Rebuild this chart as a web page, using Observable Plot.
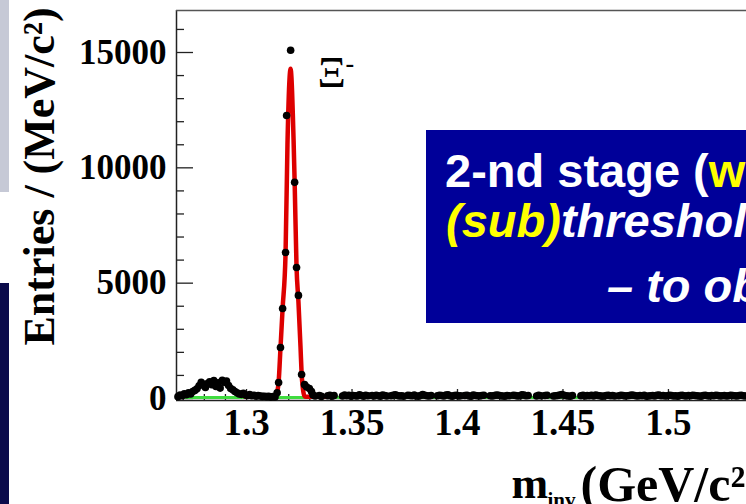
<!DOCTYPE html>
<html><head><meta charset="utf-8">
<script src="https://cdn.jsdelivr.net/npm/d3@7"></script>
<script src="https://cdn.jsdelivr.net/npm/@observablehq/plot@0.6"></script>
<style>
html,body{margin:0;padding:0;background:#fff;overflow:hidden;}
#wrap{position:relative;width:746px;height:504px;overflow:hidden;background:#fff;}
#chart{position:absolute;left:0;top:0;}
.panel{position:absolute;left:0;width:9px;}
#box{position:absolute;left:426px;top:130px;width:340px;height:193px;background:#000099;
 font-family:"Liberation Sans",Arial,sans-serif;font-weight:bold;font-size:47px;color:#fff;white-space:nowrap;}
#box div{position:absolute;line-height:1;}
.yl{color:#ffff00;}
.it{font-style:italic;}
</style></head><body>
<div id="wrap">
 <div id="chart"></div>
 <div class="panel" style="top:0;height:192px;background:#c6c9d6"></div>
 <div class="panel" style="top:283px;height:221px;background:#0b0b4b"></div>
 <div id="box">
  <div style="left:19px;top:17px">2-nd stage (<span class="yl">with</span></div>
  <div class="it" style="left:20px;top:67px"><span class="yl">(sub)</span>threshold</div>
  <div class="it" style="left:181px;top:132px">– to obtain</div>
 </div>
</div>
<script>
// ---- axes ----
const xDomain = [1.2668, 1.537];
const yDomain = [-87, 16821];
const xMajorTicks = [1.3, 1.35, 1.4, 1.45, 1.5];
const xMinorTicks = [1.27,1.28,1.29,1.31,1.32,1.33,1.34,1.36,1.37,1.38,1.39,1.41,1.42,1.43,1.44,1.46,1.47,1.48,1.49,1.51,1.52,1.53];
const yMajorTicks = [0, 5000, 10000, 15000];
const yMinorTicks = [1000,2000,3000,4000,6000,7000,8000,9000,11000,12000,13000,14000,16000];
const yLabel = "Entries / (MeV/c²)";
const particle = "Ξ";

// ---- data: invariant mass histogram (1 MeV bins) ----
const leftStart = 1.2675, binStep = 0.001;
const leftEntries = [80,150,120,200,160,250,200,300,350,420,
 550,700,620,480,650,720,600,780,520,680,
 450,790,700,760,560,430,380,300,250,200,
 180,220,150,130,170,120,140,100,130,110,
 90,100,80,90,60,80,70];
const peakMass = [1.3145,1.3152,1.3161,1.3171,1.3185,1.3190,1.3209,1.3228,1.3237,1.3246,1.3261,1.3275,1.3285,1.3298,1.3308];
const peakEntries = [250,690,2210,3900,6330,12270,15100,9370,5680,4470,1040,600,500,430,300];
const rightStart = 1.3315;
const rightEntries = [
 150,110,0,130,90,0,0,120,140,100,
 130,0,0,0,110,150,120,140,100,130,
 120,110,160,130,100,140,120,0,130,110,
 140,120,100,150,130,110,0,120,140,160,
 130,110,120,100,0,140,130,120,150,110,
 100,130,170,140,120,110,130,0,0,120,
 140,130,110,150,160,120,100,130,140,110,
 120,0,130,140,110,100,150,130,120,110,
 130,140,0,0,120,110,130,150,140,120,
 110,100,130,120,0,140,130,110,120,160,
 150,120,130,0,0,0,110,140,120,0,
 130,140,0,0,110,120,130,150,170,140,
 120,110,100,130,0,0,0,120,140,110,
 130,120,140,110,150,130,120,100,110,130,
 140,120,130,110,0,120,140,130,110,120,
 130,150,140,120,110,130,120,140,100,110,
 120,130,110,140,150,120,130,110,120,140,
 130,110,120,100,130,140,120,110,130,120,
 140,130,120,110,100,130,140,120,110,130,
 120,140,130,110,120,130,110,120,140,130,
 120,110,130,140,120,110];
// ---- fit curves ----
const fitMass = [1.2995,1.3050,1.3100,1.3130,1.3142,1.3147,1.3152,1.3161,1.3171,1.3185,1.3194,1.3204,1.3209,1.3213,1.3223,1.3228,1.3237,1.3246,1.3256,1.3261,1.3270,1.3275,1.3290,1.3340,1.3375];
const fitEntries = [80,80,80,85,150,350,700,2200,3900,6300,11000,13900,14300,13900,11200,9400,5700,4200,2200,1100,250,90,80,80,80];
const bgMass = [1.2668, 1.537];
const bgEntries = [40, 40];

const points = [];
leftEntries.forEach((v, i) => points.push({m: leftStart + i * binStep, n: v}));
peakEntries.forEach((v, i) => points.push({m: peakMass[i], n: v}));
rightEntries.forEach((v, i) => points.push({m: rightStart + i * binStep, n: v}));
const shown = points.filter(d => d.n > 0);
const fit = fitMass.map((m, i) => ({m, n: fitEntries[i]}));
const bg = bgMass.map((m, i) => ({m, n: bgEntries[i]}));

const serif = "'Liberation Serif','Times New Roman',serif";
const axisCol = "#222";
const txt = {fontWeight: "bold", fontFamily: serif, fill: "#000", lineAnchor: "middle", textAnchor: "start"};

const plot = Plot.plot({
  width: 746, height: 504,
  marginLeft: 176, marginRight: 0, marginTop: 10, marginBottom: 104,
  x: {domain: xDomain, axis: null},
  y: {domain: yDomain, axis: null},
  style: {background: "transparent", overflow: "hidden"},
  marks: [
    Plot.ruleX([xDomain[0]], {stroke: axisCol, strokeWidth: 1.5}),
    Plot.ruleY([yDomain[1]], {stroke: "#555", strokeWidth: 1.5}),
    Plot.ruleY([yDomain[0]], {stroke: axisCol, strokeWidth: 1.5}),
    Plot.axisY(yMajorTicks, {anchor: "left", tickSize: 17, dx: 17, tickFormat: () => "", label: null, stroke: axisCol, strokeWidth: 1.3}),
    Plot.axisY(yMinorTicks, {anchor: "left", tickSize: 8, dx: 8, tickFormat: () => "", label: null, stroke: axisCol, strokeWidth: 1.3}),
    Plot.axisY(yMajorTicks, {anchor: "left", tickSize: 0, tickPadding: 10, label: null, tickFormat: d => String(d),
      fontSize: 35, fontWeight: "bold", fontFamily: serif, fill: "#000"}),
    Plot.axisX(xMajorTicks, {anchor: "bottom", tickSize: 11, dy: -11, tickFormat: () => "", label: null, stroke: axisCol, strokeWidth: 1.3}),
    Plot.axisX(xMinorTicks, {anchor: "bottom", tickSize: 6, dy: -6, tickFormat: () => "", label: null, stroke: axisCol, strokeWidth: 1.3}),
    Plot.axisX(xMajorTicks, {anchor: "bottom", tickSize: 0, tickPadding: 8, label: null, tickFormat: d => String(d),
      fontSize: 37, fontWeight: "bold", fontFamily: serif, fill: "#000"}),
    Plot.line(bg, {x: "m", y: "n", stroke: "#3fdc3f", strokeWidth: 3}),
    Plot.line(fit, {x: "m", y: "n", stroke: "#dd0000", strokeWidth: 4.5, curve: "monotone-x"}),
    Plot.dot(shown, {x: "m", y: "n", r: 3.8, fill: "#000", stroke: null}),
    Plot.text([yLabel], {...txt, frameAnchor: "left", rotate: -90, dx: -137, dy: 140, fontSize: 44}),
    Plot.text([particle], {...txt, frameAnchor: "top-left", dx: 141, dy: 62, fontSize: 44, fontWeight: "normal"}),
    Plot.text(["-"], {...txt, frameAnchor: "top-left", dx: 169, dy: 53, fontSize: 26}),
    Plot.text(["m"], {...txt, frameAnchor: "bottom-left", dx: 335, dy: 83, fontSize: 44}),
    Plot.text(["inv"], {...txt, frameAnchor: "bottom-left", dx: 371, dy: 100, fontSize: 21}),
    Plot.text(["(GeV/c²)"], {...txt, frameAnchor: "bottom-left", dx: 404, dy: 84, fontSize: 50})
  ]
});
document.getElementById("chart").appendChild(plot);
</script>
</body></html>
